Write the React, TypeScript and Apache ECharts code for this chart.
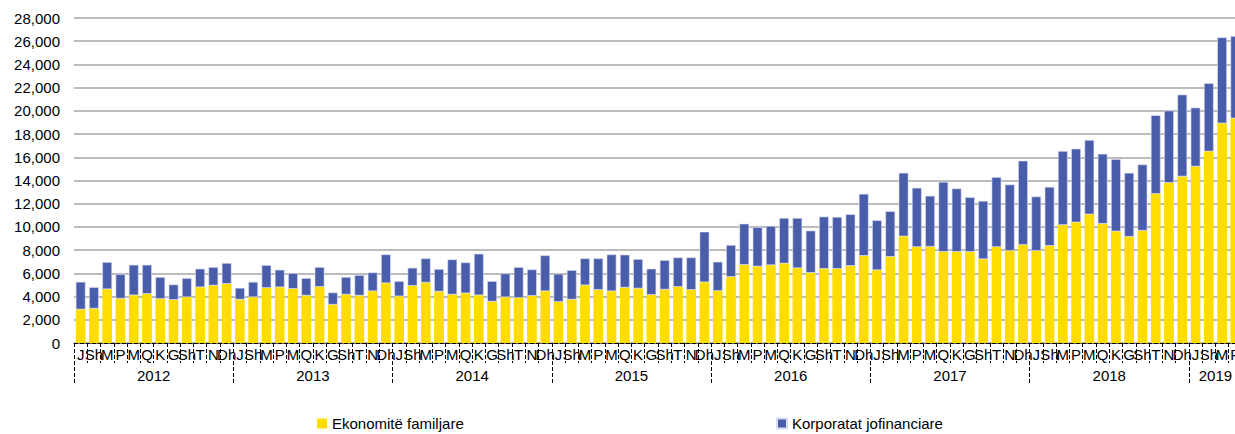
import React, { useEffect, useRef } from "react";
import * as echarts from "echarts";

const monthAbbr = ["J", "Sh", "M", "P", "M", "Q", "K", "G", "Sh", "T", "N", "Dh"];
const years = ["2012", "2013", "2014", "2015", "2016", "2017", "2018", "2019"];
const monthsIn2019 = 4;

const categories: string[] = [];
years.forEach((y, yi) => {
  const n = yi === years.length - 1 ? monthsIn2019 : 12;
  for (let m = 0; m < n; m++) categories.push(monthAbbr[m]);
});

// Ekonomitë familjare (yellow)
const households = [
  2900, 2970, 4640, 3830, 4120, 4240, 3800, 3720, 3950, 4810, 4960, 5100,
  3750, 3950, 4750, 4810, 4670, 4090, 4840, 3310, 4180, 4090, 4470, 5160,
  4030, 4930, 5210, 4440, 4180, 4290, 4120, 3570, 3950, 3890, 4060, 4470,
  3540, 3750, 4980, 4580, 4470, 4780, 4700, 4150, 4610, 4840, 4580, 5240,
  4490, 5700, 6740, 6600, 6710, 6860, 6450, 6050, 6400, 6400, 6650, 7520,
  6280, 7430, 9190, 8270, 8300, 7860, 7860, 7860, 7230, 8270, 7950, 8470,
  7950, 8380, 10170, 10400, 11090, 10280, 9620, 9160, 9680, 12850, 13800, 14350,
  15210, 16510, 18930, 19360,
];

// Korporatat jofinanciare (blue)
const corporates = [
  2370, 1840, 2330, 2100, 2620, 2500, 1880, 1320, 1640, 1590, 1580, 1790,
  1000, 1320, 1960, 1500, 1350, 1500, 1700, 1040, 1500, 1760, 1610, 2470,
  1300, 1550, 2080, 1930, 3020, 2650, 3570, 1760, 2040, 2650, 2280, 3080,
  2420, 2530, 2310, 2710, 3160, 2830, 2530, 2250, 2530, 2530, 2790, 4350,
  2510, 2740, 3540, 3370, 3370, 3910, 4320, 3630, 4490, 4460, 4440, 5330,
  4290, 3920, 5470, 5100, 4380, 6020, 5450, 4700, 5010, 6020, 5700, 7230,
  4670, 5070, 6370, 6340, 6400, 6020, 6220, 5500, 5700, 6770, 6220, 7050,
  5070, 5870, 7400, 7080,
];

const yearTickPositions = [0, 12, 24, 36, 48, 60, 72, 84];
const yearLabelPositions = [6, 18, 30, 42, 54, 66, 78, 86];

const FONT = "Liberation Sans, Arial, sans-serif";

export default function App() {
  const ref = useRef<HTMLDivElement>(null);

  useEffect(() => {
    document.body.style.margin = "0";
    if (!ref.current) return;
    const chart = echarts.init(ref.current, undefined, { renderer: "svg" });
    chart.setOption({
      animation: false,
      textStyle: { fontFamily: FONT },
      grid: { left: 74, top: 18, bottom: 91, right: -7, containLabel: false, outerBoundsMode: "none" },
      legend: [
        {
          data: ["Ekonomitë familjare"],
          left: 317,
          top: 416,
          padding: 0,
          icon: "rect",
          itemWidth: 10,
          itemHeight: 10,
          itemGap: 4,
          textStyle: { fontSize: 15, color: "#000", fontFamily: FONT },
        },
        {
          data: ["Korporatat jofinanciare"],
          left: 776,
          top: 416,
          padding: 0,
          icon: "rect",
          itemWidth: 10,
          itemHeight: 10,
          textStyle: { fontSize: 15, color: "#000", fontFamily: FONT },
        },
      ],
      xAxis: [
        {
          type: "category",
          data: categories,
          position: "bottom",
          axisLine: { show: true, lineStyle: { color: "#000", width: 1, type: [4, 2] } },
          axisTick: { show: true, interval: 0, length: 20, lineStyle: { color: "#000", width: 1, type: [4, 2] } },
          axisLabel: { interval: 0, fontSize: 15, color: "#000", margin: 4, fontFamily: FONT, hideOverlap: false },
          splitLine: { show: false },
        },
        {
          type: "value",
          min: 0,
          max: categories.length,
          position: "bottom",
          axisLine: { show: false },
          axisTick: {
            show: true,
            customValues: yearTickPositions,
            length: 40,
            lineStyle: { color: "#000", width: 1, type: [4, 2] },
          },
          axisLabel: {
            customValues: yearLabelPositions,
            fontSize: 15,
            color: "#000",
            margin: 25,
            fontFamily: FONT,
            formatter: (v: number) => {
              const i = yearLabelPositions.indexOf(Math.round(v));
              return i >= 0 ? years[i] : "";
            },
          },
          splitLine: { show: false },
        },
      ],
      yAxis: {
        type: "value",
        min: 0,
        max: 28000,
        interval: 2000,
        axisLine: { show: false },
        axisTick: { show: false },
        axisLabel: {
          fontSize: 15,
          color: "#000",
          margin: 14,
          fontFamily: FONT,
          formatter: (v: number) => v.toLocaleString("en-US"),
        },
        splitLine: { show: true, lineStyle: { color: "#a6a6a6", width: 1.5 } },
      },
      series: [
        {
          name: "Ekonomitë familjare",
          type: "bar",
          stack: "total",
          data: households,
          barCategoryGap: "27%",
          itemStyle: { color: "#FFDD00" },
        },
        {
          name: "Korporatat jofinanciare",
          type: "bar",
          stack: "total",
          data: corporates,
          barCategoryGap: "27%",
          itemStyle: { color: "#4A5DAA", borderColor: "#d8ddef", borderWidth: 0.6 },
        },
      ],
    });
    return () => chart.dispose();
  }, []);

  return <div ref={ref} style={{ width: 1235, height: 434, overflow: "hidden" }} />;
}
